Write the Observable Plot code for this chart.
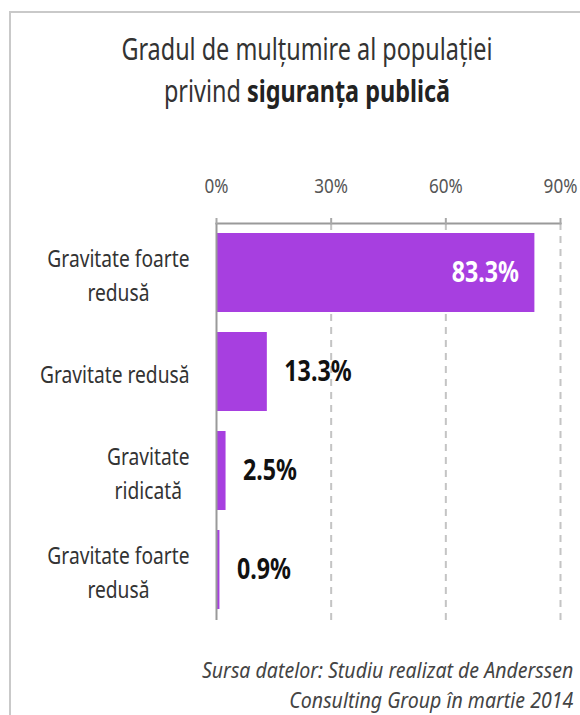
<!DOCTYPE html>
<html>
<head>
<meta charset="utf-8">
<script src="https://cdn.jsdelivr.net/npm/d3@7"></script>
<script src="https://cdn.jsdelivr.net/npm/@observablehq/plot@0.6"></script>
<style>
  html, body { margin: 0; padding: 0; background: #fff; }
  body { width: 580px; height: 715px; position: relative; overflow: hidden;
         font-family: "Noto Sans", "Open Sans", sans-serif; }
  #frame { position: absolute; left: 9px; top: 11px; right: -4px; bottom: -4px;
           border-left: 2px solid #c9c9c9; border-top: 2px solid #c9c9c9; }
  #title { position: absolute; top: 28px; left: 34px; width: 546px; text-align: center;
           font-size: 30px; line-height: 42px; color: #333; white-space: nowrap;
           transform: scaleX(0.78); transform-origin: 50% 50%; }
  #title b { font-weight: bold; color: #222; }
  #chart { position: absolute; left: 0; top: 150px; }
  #chart svg text { font-family: "Noto Sans", "Open Sans", sans-serif; }
  #caption { position: absolute; right: 7px; top: 655px; text-align: right; white-space: nowrap;
             font-style: italic; font-size: 21px; line-height: 30px; color: #444;
             transform: scaleX(0.93); transform-origin: 100% 50%; }
</style>
</head>
<body>
<div id="frame"></div>
<div id="title">Gradul de mulțumire al populației<br>privind <b>siguranța publică</b></div>
<div id="chart"></div>
<div id="caption">Sursa datelor: Studiu realizat de Anderssen<br>Consulting Group în martie 2014</div>
<script>
const categories = ["Gravitate foarte\nredusă", "Gravitate redusă", "Gravitate\nridicată", "Gravitate foarte\nredusă"];
const values = [83.3, 13.3, 2.5, 0.9];
const tickValues = [0, 30, 60, 90];
const valueLabels = ["83.3%", "13.3%", "2.5%", "0.9%"];

const data = categories.map((c, i) => ({key: i, label: c, value: values[i], text: valueLabels[i]}));

const barColor = "#a73fe0";

const plot = Plot.plot({
  width: 580,
  height: 490,
  marginTop: 73,
  marginBottom: 20,
  marginLeft: 216,
  marginRight: 20,
  style: {background: "transparent"},
  x: {domain: [0, 90], axis: null},
  y: {type: "band", domain: data.map(d => d.key), paddingInner: 0.2, paddingOuter: 0.1, axis: null},
  marks: [
    Plot.gridX(tickValues.filter(t => t > 0), {stroke: "#c4c4c4", strokeOpacity: 1, strokeWidth: 2, strokeDasharray: "7,6"}),
    Plot.barX(data, {x: "value", y: "key", fill: barColor}),
    Plot.ruleX([0], {stroke: "#9a9a9a", strokeWidth: 2}),
    Plot.frame({anchor: "top", stroke: "#9a9a9a", strokeWidth: 2}),
    Plot.axisX(tickValues, {anchor: "top", label: null, tickSize: 6, tickFormat: () => "", stroke: "#a8a8a8", strokeWidth: 2}),
    Plot.axisX(tickValues, {anchor: "top", label: null, tickSize: 0, tickPadding: 31, tickFormat: d => d + "%", fontSize: 19, fill: "#555", className: "xt"}),
    Plot.axisY(data.map(d => d.key), {anchor: "left", label: null, tickSize: 0, tickPadding: 27, tickFormat: i => categories[i], fontSize: 24, lineHeight: 1.42, fill: "#333", className: "yt"}),
    Plot.text(data.filter(d => d.value > 50), {x: "value", y: "key", text: "text", textAnchor: "end", dx: -16, fill: "white", fontSize: 29, fontWeight: "bold", className: "vl"}),
    Plot.text(data.filter(d => d.value <= 50), {x: "value", y: "key", text: "text", textAnchor: "start", dx: 17, fill: "#111", fontSize: 29, fontWeight: "bold", className: "vl"})
  ]
});
document.getElementById("chart").appendChild(plot);

// narrow-font look: compress glyph widths of the rendered texts
function condense(selector, factor, centerLines) {
  plot.querySelectorAll(selector).forEach(t => {
    const spans = t.querySelectorAll("tspan");
    const items = spans.length ? Array.from(spans) : [t];
    const widths = items.map(el => el.getComputedTextLength() * factor);
    items.forEach((el, k) => {
      if (widths[k] > 0) {
        el.setAttribute("textLength", widths[k].toFixed(2));
        el.setAttribute("lengthAdjust", "spacingAndGlyphs");
      }
    });
    if (centerLines && spans.length > 1) {
      // right-aligned block whose lines are centred on each other
      const W = Math.max(...widths);
      items.forEach((el, k) => {
        const base = +(el.getAttribute("x") || 0);
        el.setAttribute("x", (base - (W - widths[k]) / 2).toFixed(2));
      });
    }
  });
}
condense(".yt text", 0.8, true);
condense(".vl text", 0.8);
condense(".xt text", 0.9);
</script>
</body>
</html>
